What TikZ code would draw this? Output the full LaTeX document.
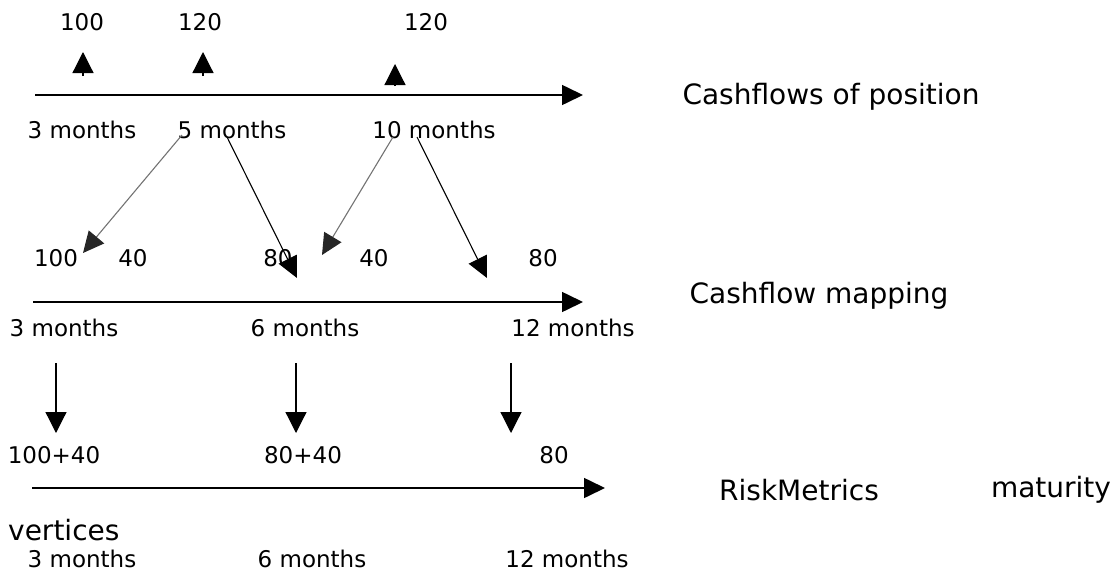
\documentclass[tikz,border=0pt]{standalone}
\usepackage{fontspec}
\setmainfont{DejaVu Sans}
\usetikzlibrary{arrows.meta}

\tikzset{
    small/.style={font=\fontsize{23}{27}\selectfont, inner sep=0pt},
    big/.style={font=\fontsize{28}{33}\selectfont, inner sep=0pt},
    axis/.style={line width=1.6pt, -{Triangle[length=21pt,width=20pt]}},
    flow/.style={line width=1.2pt, -{Triangle[length=21pt,width=21pt]}},
    split/.style={line width=1.1pt, black!55, -{Triangle[length=21pt,width=20pt,color=black!85]}},
    keep/.style={line width=1.1pt, -{Triangle[length=21pt,width=20pt]}}
}

\begin{document}
\begin{tikzpicture}[x=1pt, y=-1pt]
    \useasboundingbox (0, 0) rectangle (1116, 581);
            % position
            \node[small](1) at (82, 22) {100};
            \node[small](2) at (200, 22) {120};
            \node[small](3) at (426, 22) {120};
            \coordinate(u1) at (83, 76); \coordinate(v1) at (83, 52);
            \coordinate(u2) at (203, 76); \coordinate(v2) at (203, 52);
            \coordinate(u3) at (395, 86); \coordinate(v3) at (395, 64);
            \path[flow] (u1) edge (v1) (u2) edge (v2) (u3) edge (v3);
            \coordinate(a1) at (35, 95); \coordinate(b1) at (583, 95);
            \draw[axis] (a1) -- (b1);
            \node[small](4) at (82, 130) {3 months};
            \node[small](5) at (232, 130) {5 months};
            \node[small](6) at (434, 130) {10 months};
            \node[big](7) at (831, 97) {Cashflows of position};
            % mapping
            \coordinate(s1) at (182, 135); \coordinate(t1) at (83, 253);
            \coordinate(s2) at (227, 137); \coordinate(t2) at (297, 278);
            \coordinate(s3) at (393, 137); \coordinate(t3) at (322, 255);
            \coordinate(s4) at (417, 137); \coordinate(t4) at (487, 278);
            \path[split] (s1) edge (t1) (s3) edge (t3);
            \path[keep] (s2) edge (t2) (s4) edge (t4);
            \node[small](8) at (56, 258) {100};
            \node[small](9) at (133, 258) {40};
            \node[small](10) at (278, 258) {80};
            \node[small](11) at (374, 258) {40};
            \node[small](12) at (543, 258) {80};
            \coordinate(a2) at (33, 302); \coordinate(b2) at (583, 302);
            \draw[axis] (a2) -- (b2);
            \node[small](13) at (64, 328) {3 months};
            \node[small](14) at (305, 328) {6 months};
            \node[small](15) at (573, 328) {12 months};
            \node[big](16) at (819, 296) {Cashflow mapping};
            % vertices
            \coordinate(d1) at (56, 363); \coordinate(e1) at (56, 433);
            \coordinate(d2) at (296, 363); \coordinate(e2) at (296, 433);
            \coordinate(d3) at (511, 363); \coordinate(e3) at (511, 433);
            \path[flow] (d1) edge (e1) (d2) edge (e2) (d3) edge (e3);
            \node[small](17) at (54, 455) {100+40};
            \node[small](18) at (303, 455) {80+40};
            \node[small](19) at (554, 455) {80};
            \coordinate(a3) at (32, 488); \coordinate(b3) at (605, 488);
            \draw[axis] (a3) -- (b3);
            \node[big](20) at (799, 490) {RiskMetrics};
            \node[big](21) at (1051, 490) {maturity};
            \node[big, anchor=west](22) at (8, 530) {vertices};
            \node[small](23) at (82, 559) {3 months};
            \node[small](24) at (312, 559) {6 months};
            \node[small](25) at (567, 559) {12 months};
\end{tikzpicture}
\end{document}
